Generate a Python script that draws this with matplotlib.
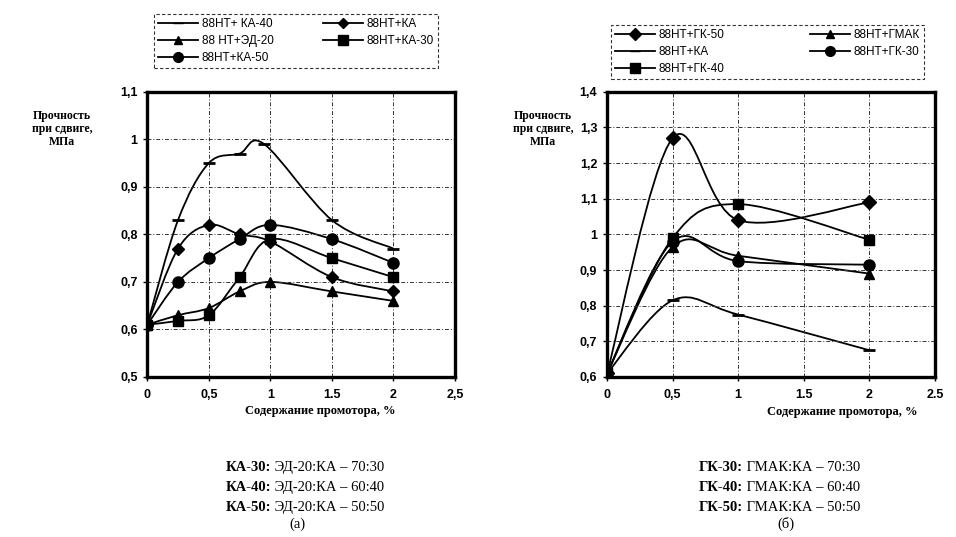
import matplotlib.pyplot as plt
from matplotlib.path import Path
from matplotlib.patches import PathPatch
import numpy as np

# ---- data, left panel (a)
x_a = [0, 0.25, 0.5, 0.75, 1.0, 1.5, 2.0]
x_ka40 = [0, 0.25, 0.5, 0.75, 0.95, 1.5, 2.0]
ka40 = [0.61, 0.83, 0.95, 0.97, 0.99, 0.83, 0.77]
ka = [0.61, 0.77, 0.82, 0.80, 0.785, 0.71, 0.68]
ed20 = [0.61, 0.63, 0.645, 0.68, 0.70, 0.68, 0.66]
ka30 = [0.61, 0.618, 0.63, 0.71, 0.79, 0.75, 0.71]
ka50 = [0.61, 0.70, 0.75, 0.79, 0.82, 0.79, 0.74]

# ---- data, right panel (б)
x_b = [0, 0.5, 1.0, 2.0]
gk50 = [0.61, 1.27, 1.04, 1.09]
gmak = [0.61, 0.965, 0.94, 0.89]
ka_b = [0.61, 0.815, 0.775, 0.675]
gk30 = [0.61, 0.98, 0.925, 0.915]
gk40 = [0.61, 0.99, 1.085, 0.985]

xt_a = ["0", "0,5", "1", "1.5", "2", "2,5"]
xt_b = ["0", "0,5", "1", "1.5", "2", "2.5"]

serif = "Liberation Serif"
sans = "Liberation Sans"


def smooth(ax, xs, ys, **kw):
    # excel-like smoothed line: catmull-rom segments as cubic beziers
    p = np.column_stack([xs, ys])
    n = len(p)
    verts = [p[0]]
    codes = [Path.MOVETO]
    for i in range(n - 1):
        p0 = p[i - 1] if i > 0 else p[i]
        p3 = p[i + 2] if i + 2 < n else p[i + 1]
        c1 = p[i] + (p[i + 1] - p0) / 6
        c2 = p[i + 1] - (p3 - p[i]) / 6
        verts += [c1, c2, p[i + 1]]
        codes += [Path.CURVE4] * 3
    ax.add_patch(PathPatch(Path(verts, codes), fill=False, **kw))


def setup(ax, ylo, yhi, xt):
    ax.set_xlim(0, 2.5)
    ax.set_ylim(ylo, yhi)
    ax.set_xticks(np.arange(0, 2.51, 0.5))
    ax.set_xticklabels(xt)
    yt = np.round(np.arange(ylo, yhi + 0.001, 0.1), 1)
    ax.set_yticks(yt)
    ax.set_yticklabels([("%g" % v).replace(".", ",") for v in yt])
    for lab in ax.get_xticklabels() + ax.get_yticklabels():
        lab.set_fontweight("bold")
        lab.set_family(sans)
        lab.set_fontsize(9)
    ax.tick_params(direction="out", length=3, width=1, pad=4)
    ax.tick_params(axis="x", pad=6)
    ax.grid(True, color="#333333", linestyle=(0, (4, 2, 1, 2)), linewidth=0.7)
    for s in ax.spines.values():
        s.set_linewidth(2.4)


fig = plt.figure(figsize=(9.56, 5.37), dpi=100)
ax1 = fig.add_axes([0.154, 0.298, 0.322, 0.531])
ax2 = fig.add_axes([0.635, 0.298, 0.343, 0.531])

lw = 1.3
ms = dict(color="black", markeredgecolor="black", linestyle="none")

# left panel
setup(ax1, 0.5, 1.1, xt_a)
series_a = [
    (x_ka40, ka40, "_", 8, "88НТ+ КА-40"),
    (x_a, ed20, "^", 7, "88 НТ+ЭД-20"),
    (x_a, ka50, "o", 8, "88НТ+КА-50"),
    (x_a, ka, "D", 6, "88НТ+КА"),
    (x_a, ka30, "s", 7.5, "88НТ+КА-30"),
]
h1 = []
for xs, ys, m, s, lab in series_a:
    smooth(ax1, xs, ys, edgecolor="black", linewidth=lw)
    ax1.plot(xs, ys, marker=m, markersize=s, mew=2 if m == "_" else 1, **ms)
    h1.append(plt.Line2D([], [], color="black", lw=lw, marker=m, markersize=s - 1, label=lab))

# right panel
setup(ax2, 0.6, 1.4, xt_b)
series_b = [
    (x_b, gk50, "D", 7, "88НТ+ГК-50"),
    (x_b, ka_b, "_", 8, "88НТ+КА"),
    (x_b, gk40, "s", 7.5, "88НТ+ГК-40"),
    (x_b, gmak, "^", 7, "88НТ+ГМАК"),
    (x_b, gk30, "o", 8, "88НТ+ГК-30"),
]
h2 = []
for xs, ys, m, s, lab in series_b:
    smooth(ax2, xs, ys, edgecolor="black", linewidth=lw)
    ax2.plot(xs, ys, marker=m, markersize=s, mew=2 if m == "_" else 1, **ms)
    h2.append(plt.Line2D([], [], color="black", lw=lw, marker=m, markersize=s - 1, label=lab))

# legends
for hs, box in [(h1, (0.155, 0.866, 0.309, 0.115)), (h2, (0.633, 0.843, 0.34, 0.12))]:
    leg = fig.legend(handles=hs, ncol=2, loc="center", bbox_to_anchor=box, mode="expand",
                     prop={"family": sans, "size": 8.5}, handlelength=3.4,
                     fancybox=False, edgecolor="black", borderpad=0.35,
                     labelspacing=0.4, handletextpad=0.3, columnspacing=1.0)
    leg.get_frame().set_linestyle((0, (3, 2)))
    leg.get_frame().set_linewidth(0.8)

# axis titles
ylab = "Прочность\nпри сдвиге,\nМПа"
fig.text(0.065, 0.76, ylab, ha="center", va="center", family=serif, weight="bold",
         fontsize=8.5, linespacing=1.15)
fig.text(0.568, 0.76, ylab, ha="center", va="center", family=serif, weight="bold",
         fontsize=8.5, linespacing=1.15)
fig.text(0.335, 0.235, "Содержание промотора, %", ha="center", va="center",
         family=serif, weight="bold", fontsize=9)
fig.text(0.881, 0.232, "Содержание промотора, %", ha="center", va="center",
         family=serif, weight="bold", fontsize=9)

# composition notes: bold prefix + regular remainder on one baseline
notes_a = [("КА-30:", " ЭД-20:КА – 70:30"), ("КА-40:", " ЭД-20:КА – 60:40"),
           ("КА-50:", " ЭД-20:КА – 50:50")]
notes_b = [("ГК-30:", " ГМАК:КА – 70:30"), ("ГК-40:", " ГМАК:КА – 60:40"),
           ("ГК-50:", " ГМАК:КА – 50:50")]
fs = 10.5
pending = []
for notes, x0, tag, xc in [(notes_a, 0.236, "(а)", 0.311), (notes_b, 0.731, "(б)", 0.822)]:
    for i, (b, r) in enumerate(notes):
        y = 1 - (471 + 20 * i) / 537
        t = fig.text(x0, y, b, ha="left", va="baseline", family=serif, weight="bold", fontsize=fs)
        pending.append((t, y, r))
    fig.text(xc, 1 - 524 / 537, tag, ha="center", va="center", family=serif, fontsize=fs)

fig.canvas.draw()
for t, y, r in pending:
    x1 = t.get_window_extent().x1 / fig.bbox.width
    fig.text(x1, y, r, ha="left", va="baseline", family=serif, fontsize=fs)

plt.savefig("out.png", dpi=100)
